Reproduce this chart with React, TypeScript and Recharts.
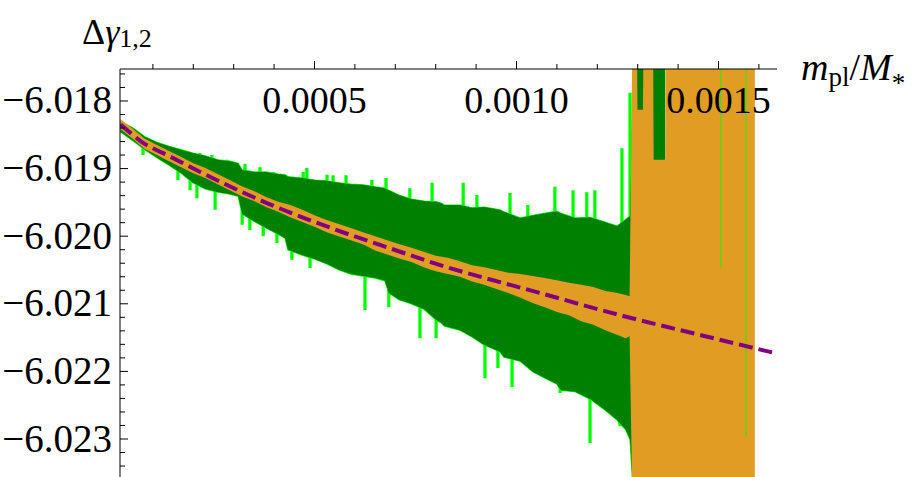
import React from 'react';
import { ComposedChart, Area, Line, XAxis, YAxis } from 'recharts';

// plot window (x axis sits on the top edge, y runs past the bottom edge)
const X_MIN = 0.00001856;
const X_MAX = 0.0016448;
const Y_MIN = -6.023562;
const Y_MAX = -6.017527;
// values beyond the plotted range (clipped)
const OFF_TOP = -6.017;
const OFF_BOTTOM = -6.024;

const xTicks = [0.0001, 0.0002, 0.0003, 0.0004, 0.0005, 0.0006, 0.0007, 0.0008, 0.0009, 0.001, 0.0011, 0.0012, 0.0013, 0.0014, 0.0015, 0.0016];
const xMajor = [0.0005, 0.001, 0.0015];
const yTicks = [
  -6.0234, -6.0232, -6.023, -6.0228, -6.0226, -6.0224, -6.0222, -6.022, -6.0218, -6.0216,
  -6.0214, -6.0212, -6.021, -6.0208, -6.0206, -6.0204, -6.0202, -6.02, -6.0198, -6.0196,
  -6.0194, -6.0192, -6.019, -6.0188, -6.0186, -6.0184, -6.0182, -6.018, -6.0178, -6.0176,
];
const yMajor = [-6.023, -6.022, -6.021, -6.02, -6.019, -6.018];

// dark green envelope (jumps where the band shifts)
const darkX = [
  0.00002, 0.0000507, 0.0000804, 0.00011, 0.00014, 0.00017, 0.000199, 0.000229, 0.000261, 0.000291,
  0.000311, 0.000321, 0.00035, 0.00038, 0.00041, 0.000427, 0.000434, 0.000469, 0.000501, 0.000531,
  0.000561, 0.00059, 0.00062, 0.00065, 0.000674, 0.000684, 0.000709, 0.000739, 0.000771, 0.000801,
  0.000813, 0.000821, 0.00086, 0.00089, 0.00092, 0.000959, 0.000969, 0.001009, 0.001041, 0.001071,
  0.0011, 0.00111, 0.001145, 0.001182, 0.001219, 0.001249, 0.001271, 0.001281, 0.001291, 0.001368,
];
const darkHi = [
  -6.0183, -6.0184, -6.01853, -6.01861, -6.01867, -6.01872, -6.01877, -6.01881, -6.01887, -6.01889,
  -6.01892, -6.01902, -6.01905, -6.01905, -6.01908, -6.01909, -6.01912, -6.01914, -6.01917, -6.01918,
  -6.01921, -6.01923, -6.01924, -6.01927, -6.01929, -6.01932, -6.01939, -6.01945, -6.01948, -6.01949,
  -6.01951, -6.01954, -6.01954, -6.01958, -6.01957, -6.01961, -6.01964, -6.01973, -6.01969, -6.01966,
  -6.01963, -6.01966, -6.01973, -6.01972, -6.01979, -6.01985, -6.01975, -6.0197, OFF_TOP, OFF_TOP,
];
const darkLo = [
  -6.01846, -6.01859, -6.01872, -6.01884, -6.01895, -6.01907, -6.01921, -6.0193, -6.01935, -6.01938,
  -6.01941, -6.01967, -6.01978, -6.01988, -6.01997, -6.02003, -6.0202, -6.02028, -6.02034, -6.02041,
  -6.0205, -6.02056, -6.02059, -6.02062, -6.02066, -6.02084, -6.02094, -6.021, -6.02108, -6.02124,
  -6.02128, -6.02133, -6.02139, -6.02149, -6.02161, -6.02171, -6.02179, -6.02185, -6.02201, -6.0221,
  -6.02219, -6.02228, -6.0223, -6.02241, -6.02257, -6.02272, -6.02287, -6.02301, OFF_BOTTOM, OFF_BOTTOM,
];

// orange envelope, blowing up past ~0.00129
const orangeX = [
  0.00002, 0.00005, 0.00008, 0.00011, 0.00014, 0.00017, 0.0002, 0.00023, 0.00026, 0.00029,
  0.00032, 0.00035, 0.00038, 0.00041, 0.00044, 0.00047, 0.0005, 0.00053, 0.00056, 0.00059,
  0.00062, 0.00065, 0.00068, 0.00071, 0.00074, 0.00077, 0.0008, 0.00083, 0.00086, 0.00089,
  0.00092, 0.00095, 0.00098, 0.00101, 0.00104, 0.00107, 0.0011, 0.00113, 0.00116, 0.00119,
  0.00122, 0.00125, 0.00127, 0.00128,
  0.001287, 0.001298, 0.0012995, 0.001313, 0.0013145, 0.001338, 0.0013395, 0.001368, 0.0013695, 0.00159,
];
const orangeHi = [
  -6.01827, -6.01841, -6.01856, -6.01865, -6.01874, -6.01883, -6.01892, -6.01899, -6.01908, -6.01917,
  -6.01926, -6.01933, -6.01942, -6.01949, -6.01954, -6.01961, -6.01969, -6.01976, -6.01982, -6.01988,
  -6.01994, -6.02, -6.02006, -6.02012, -6.02017, -6.02023, -6.02029, -6.02032, -6.02037, -6.02043,
  -6.02046, -6.0205, -6.02054, -6.02056, -6.02059, -6.02062, -6.02065, -6.02069, -6.02072, -6.02075,
  -6.02081, -6.02084, -6.02087, -6.02089,
  OFF_TOP, OFF_TOP, -6.01813, -6.01813, OFF_TOP, OFF_TOP, -6.01887, -6.01887, OFF_TOP, OFF_TOP,
];
const orangeLo = [
  -6.01842, -6.01856, -6.01871, -6.0188, -6.01889, -6.01898, -6.01907, -6.01914, -6.01923, -6.01932,
  -6.01941, -6.01948, -6.01957, -6.01964, -6.01972, -6.01979, -6.01986, -6.01994, -6.02, -6.02006,
  -6.02012, -6.02021, -6.02027, -6.02033, -6.02038, -6.02046, -6.02052, -6.02056, -6.0206, -6.02067,
  -6.02072, -6.02078, -6.02084, -6.02091, -6.02099, -6.02105, -6.02112, -6.02117, -6.02126, -6.02131,
  -6.02139, -6.02146, -6.02151, -6.02148,
  OFF_BOTTOM, OFF_BOTTOM, OFF_BOTTOM, OFF_BOTTOM, OFF_BOTTOM, OFF_BOTTOM, OFF_BOTTOM, OFF_BOTTOM, OFF_BOTTOM, OFF_BOTTOM,
];

// bright green outliers poking out of the band
const spikeX = [
  0.0000755, 0.000162, 0.000192, 0.000209, 0.000216, 0.000246, 0.000254, 0.000283, 0.000321, 0.000328,
  0.00034, 0.000365, 0.000373, 0.000399, 0.000407, 0.00042, 0.000444, 0.000472, 0.000481, 0.000489,
  0.000531, 0.000546, 0.000578, 0.000625, 0.000642, 0.000677, 0.000684, 0.000736, 0.000761, 0.000791,
  0.000801, 0.000868, 0.000902, 0.000922, 0.000954, 0.000984, 0.000989, 0.001028, 0.001095, 0.001108,
  0.00114, 0.001174, 0.001182, 0.001194, 0.001256, 0.001261, 0.001281,
];
const spikeTip = [
  -6.0188, -6.01917, -6.01932, -6.01944, -6.01877, -6.0188, -6.01961, -6.01887, -6.01983, -6.01893,
  -6.01991, -6.01898, -6.02, -6.01905, -6.0201, -6.01914, -6.02035, -6.01905, -6.01899, -6.02047,
  -6.01909, -6.0191, -6.0191, -6.02109, -6.01917, -6.01914, -6.02105, -6.01929, -6.02151, -6.01921,
  -6.02151, -6.01921, -6.01939, -6.0221, -6.02195, -6.01936, -6.02223, -6.01954, -6.01927, -6.02232,
  -6.01932, -6.01935, -6.02306, -6.01932, -6.02281, -6.0187, -6.01788,
];
const spikeBase = [
  -6.01862, -6.01889, -6.01898, -6.01904, -6.01905, -6.01914, -6.01914, -6.01921, -6.01935, -6.01936,
  -6.01939, -6.01946, -6.01948, -6.01955, -6.01955, -6.0196, -6.01966, -6.01972, -6.01975, -6.01976,
  -6.01985, -6.01989, -6.01995, -6.02006, -6.0201, -6.02018, -6.02018, -6.02029, -6.02034, -6.0204,
  -6.02041, -6.02052, -6.02057, -6.0206, -6.02066, -6.02071, -6.02072, -6.0208, -6.0209, -6.02091,
  -6.02096, -6.02102, -6.02103, -6.02106, -6.02117, -6.02117, -6.02118,
];

// thin green streaks inside the orange block
const streakX = [0.001506, 0.001568];
const streakLo = [-6.02046, -6.02297];

// dashed fit
const fitX = [0.00002, 0.00005, 0.0000755, 0.0001, 0.000135, 0.000217, 0.000382, 0.000546, 0.000712, 0.000786, 0.001058, 0.001264, 0.001454, 0.00164];
const fitY = [-6.01835, -6.0185, -6.01862, -6.0187, -6.0188, -6.01905, -6.01951, -6.01989, -6.02023, -6.02038, -6.02084, -6.02118, -6.02146, -6.02173];

const SPIKE_HALF = 0.000004;

const darkData = darkX.map((x, i) => ({ x, v: [darkLo[i], darkHi[i]] }));
const orangeData = orangeX.map((x, i) => ({ x, v: [orangeLo[i], orangeHi[i]] }));
const spikeData: { x: number; v: number[] | null }[] = [];
spikeX.forEach((x, i) => {
  const v = [spikeBase[i], spikeTip[i]];
  spikeData.push({ x: x - SPIKE_HALF, v }, { x: x + SPIKE_HALF, v }, { x: x + SPIKE_HALF * 1.01, v: null });
});
const streakData: { x: number; v: number[] | null }[] = [];
streakX.forEach((x, i) => {
  const v = [streakLo[i], OFF_TOP];
  streakData.push({ x: x - 0.0000015, v }, { x: x + 0.0000015, v }, { x: x + 0.0000016, v: null });
});
const fitData = fitX.map((x, i) => ({ x, y: fitY[i] }));

const FONT = 'Liberation Serif, DejaVu Serif, serif';
const BRIGHT = '#00ff00';
const DARK = '#008000';
const ORANGE = '#e19c24';
const PURPLE = '#800080';

const near = (list: number[], v: number) => list.some((m) => Math.abs(m - v) < 1e-9);

const XTick = (props: any) => {
  const { x, y, payload } = props;
  const major = near(xMajor, payload.value);
  return (
    <g>
      <line x1={x} y1={y} x2={x} y2={y - (major ? 8 : 5)} stroke="#000" strokeWidth={1} />
      {major && (
        <text x={x} y={y + 44} textAnchor="middle" fontSize={38} fontFamily={FONT} fill="#000">
          {payload.value.toFixed(4)}
        </text>
      )}
    </g>
  );
};

const YTick = (props: any) => {
  const { x, y, payload } = props;
  const major = near(yMajor, payload.value);
  return (
    <g>
      <line x1={x} y1={y} x2={x + (major ? 8 : 5)} y2={y} stroke="#000" strokeWidth={1} />
      {major && (
        <text x={x - 8} y={y + 12.5} textAnchor="end" fontSize={39} fontFamily={FONT} fill="#000">
          {'\u2212' + Math.abs(payload.value).toFixed(3)}
        </text>
      )}
    </g>
  );
};

export default function App() {
  return (
    <div style={{ position: 'absolute', left: 0, top: 0, width: 913, height: 477, background: '#fff' }}>
      <ComposedChart width={913} height={477} margin={{ top: 0, right: 136, bottom: 0, left: 0 }}>
        <Area data={darkData} dataKey="v" type="linear" fill={BRIGHT} fillOpacity={1} stroke={BRIGHT} strokeWidth={1.2}
          dot={false} activeDot={false} isAnimationActive={false} />
        <Area data={spikeData} dataKey="v" type="linear" fill={BRIGHT} fillOpacity={1} stroke="none"
          dot={false} activeDot={false} isAnimationActive={false} />
        <Area data={darkData} dataKey="v" type="linear" fill={DARK} fillOpacity={1} stroke="none"
          dot={false} activeDot={false} isAnimationActive={false} />
        <Area data={orangeData} dataKey="v" type="linear" fill={ORANGE} fillOpacity={1} stroke="none"
          dot={false} activeDot={false} isAnimationActive={false} />
        <Area data={streakData} dataKey="v" type="linear" fill={BRIGHT} fillOpacity={0.7} stroke="none"
          dot={false} activeDot={false} isAnimationActive={false} />
        <Line data={fitData} dataKey="y" type="monotone" stroke={PURPLE} strokeWidth={4} strokeDasharray="14 6"
          dot={false} activeDot={false} isAnimationActive={false} />
        <XAxis type="number" dataKey="x" orientation="top" domain={[X_MIN, X_MAX]} allowDataOverflow
          ticks={xTicks} interval={0} tick={<XTick />} tickLine={false} tickSize={0} tickMargin={0}
          height={69} axisLine={{ stroke: '#000', strokeWidth: 1 }} />
        <YAxis type="number" domain={[Y_MIN, Y_MAX]} allowDataOverflow
          ticks={yTicks} interval={0} tick={<YTick />} tickLine={false} tickSize={0} tickMargin={0}
          width={120} axisLine={{ stroke: '#000', strokeWidth: 1 }} />
      </ComposedChart>
      <svg width={913} height={477} style={{ position: 'absolute', left: 0, top: 0, pointerEvents: 'none' }}>
        <text x={82} y={44} fontFamily={FONT} fontSize={36} fill="#000">
          Δ<tspan fontStyle="italic">γ</tspan>
          <tspan fontSize={26} dy={3}>1,2</tspan>
        </text>
        <text x={801} y={80} fontFamily={FONT} fontSize={38} fill="#000">
          <tspan fontStyle="italic">m</tspan>
          <tspan fontSize={27} dy={6}>pl</tspan>
          <tspan dy={-6}>/</tspan>
          <tspan fontStyle="italic">M</tspan>
          <tspan fontSize={27} dy={12}>*</tspan>
        </text>
      </svg>
    </div>
  );
}
